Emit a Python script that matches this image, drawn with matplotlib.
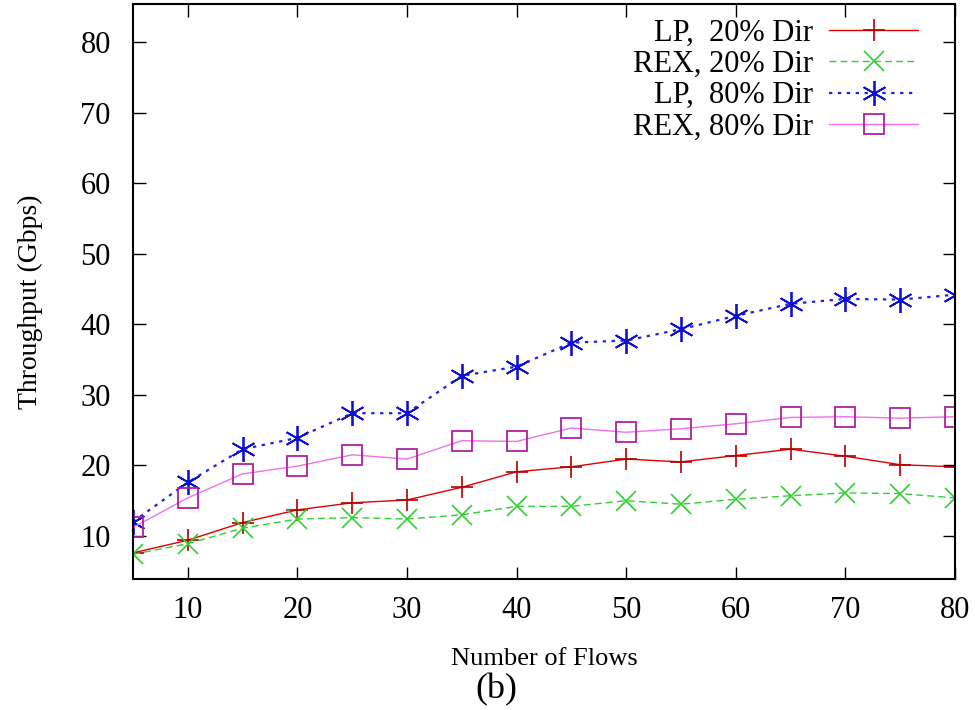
import matplotlib
matplotlib.use("Agg")
import matplotlib.pyplot as plt

flows = [5, 10, 15, 20, 25, 30, 35, 40, 45, 50, 55, 60, 65, 70, 75, 80]
lp_20 = [7.6, 9.4, 11.9, 13.7, 14.7, 15.1, 16.9, 19.1, 19.8, 20.9, 20.5, 21.4, 22.3, 21.3, 20.1, 19.8]
rex_20 = [7.4, 8.9, 11.1, 12.4, 12.6, 12.4, 13.0, 14.2, 14.2, 15.0, 14.5, 15.2, 15.7, 16.1, 16.0, 15.4]
lp_80 = [12.0, 17.6, 22.3, 23.9, 27.4, 27.4, 32.7, 34.0, 37.4, 37.7, 39.3, 41.2, 42.9, 43.6, 43.5, 44.2]
rex_80 = [11.2, 15.4, 18.8, 19.9, 21.5, 20.9, 23.5, 23.4, 25.3, 24.7, 25.2, 25.9, 26.8, 26.9, 26.7, 26.9]

labels = ["LP,  20% Dir", "REX, 20% Dir", "LP,  80% Dir", "REX, 80% Dir"]
xticks = [10, 20, 30, 40, 50, 60, 70, 80]
yticks = [10, 20, 30, 40, 50, 60, 70, 80]

plt.rcParams['font.family'] = ['Liberation Serif', 'DejaVu Serif']

fig = plt.figure(figsize=(9.75, 7.1), dpi=100)
ax = fig.add_axes([0.1364, 0.1845, 0.9795 - 0.1364, 0.9944 - 0.1845])

ax.plot(flows, lp_20, color='#e00000', linestyle='-', linewidth=1.0,
        marker='+', markersize=16, markeredgewidth=1.2, markeredgecolor='#b00000', label=labels[0])
ax.plot(flows, rex_20, color='#30d030', linestyle=(0, (5, 3)), linewidth=1.0,
        marker='x', markersize=14, markeredgewidth=1.2, markeredgecolor='#30d030', label=labels[1])
ax.plot(flows, lp_80, color='#2020e0', linestyle=(0, (1.5, 2.5)), linewidth=1.6,
        marker=(6, 2, 0), markersize=18, markeredgewidth=1.3, markeredgecolor='#1010d0', label=labels[2])
ax.plot(flows, rex_80, color='#f070f0', linestyle='-', linewidth=1.0,
        marker='s', markersize=15, markerfacecolor='none', markeredgewidth=1.3,
        markeredgecolor='#b020a0', label=labels[3])

ax.set_xlim(5, 80)
ax.set_ylim(3.9, 85.4)
ax.set_xticks(xticks)
ax.set_yticks(yticks)
ax.tick_params(axis='both', direction='in', length=9, width=1.0, top=True, right=True,
               labelsize=22)
ax.tick_params(axis='y', pad=16)
ax.tick_params(axis='x', pad=12)
for s in ax.spines.values():
    s.set_linewidth(1.5)

fig.text(30 / 975, 1 - 302 / 710, "Throughput (Gbps)", fontsize=20, rotation=90,
         ha='center', va='center')
fig.text(544 / 975, 1 - 659 / 710, "Number of Flows", fontsize=19, ha='center', va='center')
fig.text(496 / 975, 1 - 690 / 710, "(b)", fontsize=26, ha='center', va='center')

leg = ax.legend(loc='upper right', markerfirst=False, frameon=False, fontsize=22,
                handlelength=2.9, labelspacing=0.07, handletextpad=0.55,
                borderaxespad=0.0, borderpad=0.0,
                bbox_to_anchor=(918 / 975, 1 - 19 / 710), bbox_transform=fig.transFigure)

fig.savefig("out.png", dpi=100)
